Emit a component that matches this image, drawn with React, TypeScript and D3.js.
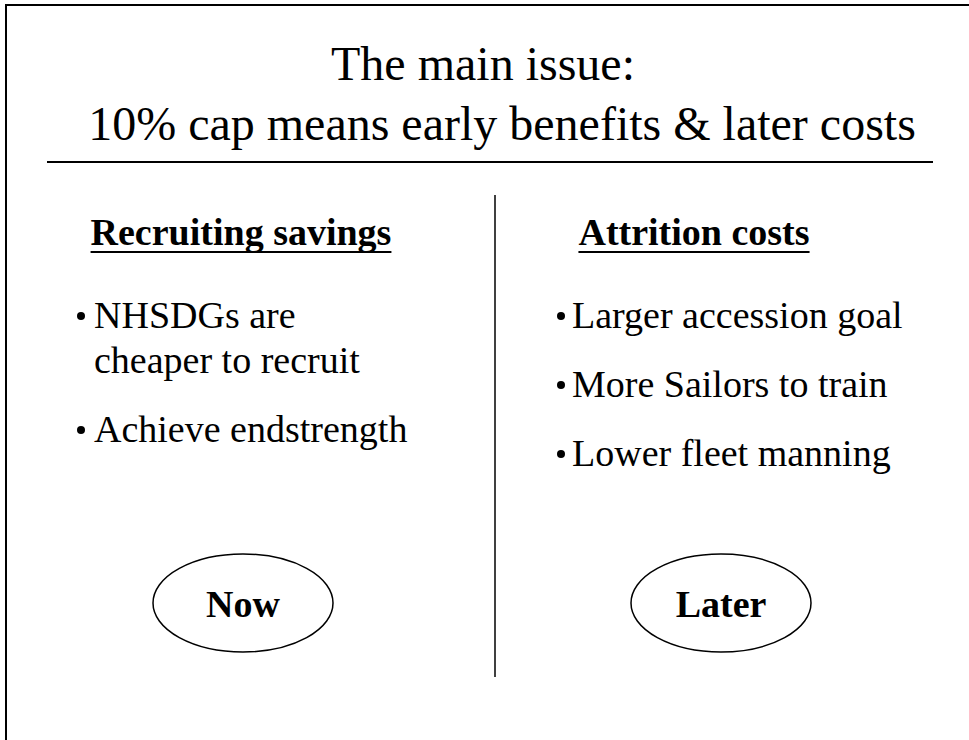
import React, { useRef, useEffect } from 'react';
import * as d3 from 'd3';

// slide text
const titleLines = ['The main issue:', '10% cap means early benefits & later costs'];
const columnHeaders = ['Recruiting savings', 'Attrition costs'];
const leftBullets = [['NHSDGs are', 'cheaper to recruit'], ['Achieve endstrength']];
const rightBullets = [['Larger accession goal'], ['More Sailors to train'], ['Lower fleet manning']];
const timeLabels = ['Now', 'Later'];

const W = 969;
const H = 740;
const FONT = '"Liberation Serif", "Times New Roman", Times, serif';

const App = () => {
  const svgRef = useRef<SVGSVGElement>(null);

  useEffect(() => {
    const svg = d3.select(svgRef.current);
    svg.selectAll('*').remove();

    svg.append('rect').attr('width', W).attr('height', H).attr('fill', '#fff');

    // scanned frame: only top and left edges show
    svg.append('path')
      .attr('d', `M6,${H} V5 H${W}`)
      .attr('fill', 'none')
      .attr('stroke', '#000')
      .attr('stroke-width', 2);

    // title
    const titleX = [483, 502];
    const titleY = d3.scaleLinear().domain([0, 1]).range([80, 140]);
    svg.selectAll('.title')
      .data(titleLines)
      .join('text')
      .attr('class', 'title')
      .attr('x', (d, i) => titleX[i])
      .attr('y', (d, i) => titleY(i))
      .attr('text-anchor', 'middle')
      .attr('font-family', FONT)
      .attr('font-size', 48)
      .attr('fill', '#000')
      .text(d => d);

    svg.append('line')
      .attr('x1', 47).attr('x2', 933)
      .attr('y1', 162).attr('y2', 162)
      .attr('stroke', '#000')
      .attr('stroke-width', 2);

    // centre divider
    svg.append('line')
      .attr('x1', 495).attr('x2', 495)
      .attr('y1', 195).attr('y2', 677)
      .attr('stroke', '#000')
      .attr('stroke-width', 1.5);

    // column layout
    const headerX = d3.scaleOrdinal<number, number>().domain([0, 1]).range([241, 694]);
    const bulletX = d3.scaleOrdinal<number, number>().domain([0, 1]).range([81, 561]);
    const textX = d3.scaleOrdinal<number, number>().domain([0, 1]).range([94, 572]);
    const ovalX = d3.scaleOrdinal<number, number>().domain([0, 1]).range([243, 721]);

    // headers with underline
    columnHeaders.forEach((h, i) => {
      const t = svg.append('text')
        .attr('x', headerX(i))
        .attr('y', 245)
        .attr('text-anchor', 'middle')
        .attr('font-family', FONT)
        .attr('font-size', 38)
        .attr('font-weight', 'bold')
        .attr('fill', '#000')
        .text(h);
      const box = (t.node() as SVGTextElement).getBBox();
      svg.append('line')
        .attr('x1', box.x).attr('x2', box.x + box.width)
        .attr('y1', 252).attr('y2', 252)
        .attr('stroke', '#000')
        .attr('stroke-width', 2.2);
    });

    // bullet lists: 45px between wrapped lines, 69px between bullets
    const lineY = d3.scaleLinear().domain([0, 1]).range([328, 373]);
    const bulletGap = 69 / 45;

    [leftBullets, rightBullets].forEach((items, col) => {
      let pos = 0;
      items.forEach((lines, k) => {
        if (k > 0) pos += bulletGap;
        // bullet dot
        svg.append('circle')
          .attr('cx', bulletX(col))
          .attr('cy', lineY(pos) - 12)
          .attr('r', 4)
          .attr('fill', '#000');
        lines.forEach((line, j) => {
          if (j > 0) pos += 1;
          svg.append('text')
            .attr('x', textX(col))
            .attr('y', lineY(pos))
            .attr('font-family', FONT)
            .attr('font-size', 38)
            .attr('fill', '#000')
            .text(line);
        });
      });
    });

    // Now / Later ovals
    svg.selectAll('.oval')
      .data(timeLabels)
      .join('ellipse')
      .attr('class', 'oval')
      .attr('cx', (d, i) => ovalX(i))
      .attr('cy', 603)
      .attr('rx', 90)
      .attr('ry', 49)
      .attr('fill', 'none')
      .attr('stroke', '#000')
      .attr('stroke-width', 1.5);

    svg.selectAll('.oval-label')
      .data(timeLabels)
      .join('text')
      .attr('class', 'oval-label')
      .attr('x', (d, i) => ovalX(i))
      .attr('y', 617)
      .attr('text-anchor', 'middle')
      .attr('font-family', FONT)
      .attr('font-size', 38)
      .attr('font-weight', 'bold')
      .attr('fill', '#000')
      .text(d => d);
  }, []);

  return (
    <svg
      ref={svgRef}
      width={W}
      height={H}
      style={{ position: 'absolute', left: 0, top: 0, display: 'block' }}
    />
  );
};

export default App;
